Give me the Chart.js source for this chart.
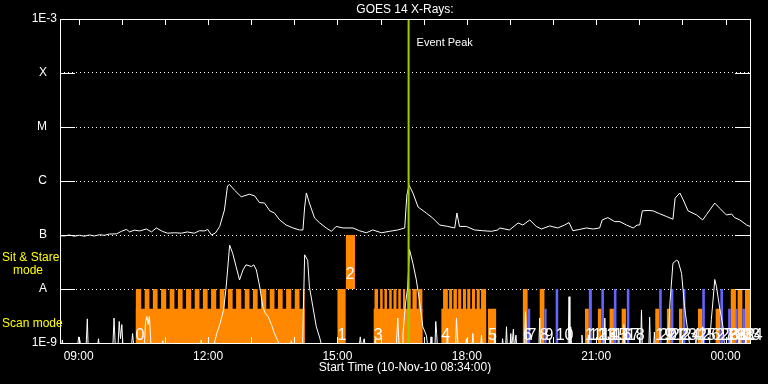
<!DOCTYPE html>
<html>
<head>
<meta charset="utf-8">
<script src="https://cdn.jsdelivr.net/npm/chart.js@4.4.0/dist/chart.umd.min.js"></script>
<style>
  html, body { margin: 0; padding: 0; background: #000; }
</style>
</head>
<body>
<canvas id="goes-chart" width="768" height="384"></canvas>
<script>
// time is in decimal hours from 10-Nov-10 08:34, values past 24 are the next day
var startHour = 8 + 34 / 60;
var endHour = startHour + 16;
var eventPeak = 16.65;

var hourTicks = [9, 10, 11, 12, 13, 14, 15, 16, 17, 18, 19, 20, 21, 22, 23, 24];
var decadeTicks = [1e-9, 1e-8, 1e-7, 1e-6, 1e-5, 1e-4, 1e-3];
var decadeNames = ['1E-9', 'A', 'B', 'C', 'M', 'X', '1E-3'];

// GOES 14 long channel (upper curve)
var longTime = [8.57, 8.67, 8.78, 8.90, 9.02, 9.13, 9.25, 9.36, 9.48, 9.60, 9.71, 9.88, 9.99, 10.11, 10.18, 10.29,
  10.41, 10.57, 10.69, 10.80, 10.94, 11.06, 11.22, 11.38, 11.52, 11.68, 11.80, 11.92, 11.99, 12.08, 12.17, 12.27,
  12.38, 12.45, 12.50, 12.61, 12.77, 12.96, 13.08, 13.19, 13.31, 13.43, 13.54, 13.66, 13.81, 13.97, 14.12, 14.20,
  14.24, 14.28, 14.35, 14.47, 14.59, 14.74, 14.86, 14.97, 15.13, 15.36, 15.51, 15.67, 15.82, 16.02, 16.21, 16.40,
  16.56, 16.61, 16.66, 16.75, 16.87, 17.06, 17.21, 17.37, 17.56, 17.72, 17.77, 17.83, 17.99, 18.18, 18.37, 18.57,
  18.72, 18.76, 18.99, 19.19, 19.30, 19.46, 19.61, 19.73, 19.92, 20.11, 20.27, 20.37, 20.46, 20.62, 20.77, 20.93,
  21.08, 21.14, 21.27, 21.43, 21.55, 21.70, 21.86, 21.95, 22.01, 22.07, 22.20, 22.32, 22.47, 22.63, 22.78, 22.83,
  22.94, 23.02, 23.13, 23.33, 23.47, 23.56, 23.75, 23.87, 24.02, 24.14, 24.21, 24.33, 24.49, 24.57];
var longFlux = [9.7e-8, 9.6e-8, 1.0e-7, 9.5e-8, 9.9e-8, 9.5e-8, 1.0e-7, 9.6e-8, 1.01e-7, 9.9e-8, 1.04e-7, 1.05e-7, 1.17e-7, 1.27e-7, 1.14e-7, 1.23e-7,
  1.19e-7, 1.29e-7, 1.14e-7, 1.35e-7, 1.17e-7, 1.08e-7, 1.10e-7, 1.08e-7, 1.14e-7, 1.08e-7, 1.20e-7, 1.19e-7, 1.27e-7, 1.00e-7, 1.09e-7, 1.44e-7,
  2.9e-7, 8.1e-7, 8.6e-7, 6.8e-7, 5.1e-7, 5.7e-7, 5.3e-7, 4.0e-7, 3.9e-7, 2.8e-7, 2.55e-7, 1.9e-7, 1.53e-7, 1.35e-7, 1.24e-7, 1.24e-7,
  3.3e-7, 6.0e-7, 3.9e-7, 2.06e-7, 1.67e-7, 1.35e-7, 1.17e-7, 1.44e-7, 1.35e-7, 1.35e-7, 1.20e-7, 1.10e-7, 1.24e-7, 1.10e-7, 1.17e-7, 1.24e-7,
  1.35e-7, 5.5e-7, 8.4e-7, 6.0e-7, 3.3e-7, 2.55e-7, 2.06e-7, 1.53e-7, 1.44e-7, 1.35e-7, 2.55e-7, 1.44e-7, 1.44e-7, 1.24e-7, 1.20e-7, 1.17e-7,
  1.24e-7, 1.35e-7, 1.24e-7, 1.67e-7, 1.53e-7, 1.90e-7, 1.44e-7, 1.29e-7, 1.47e-7, 1.35e-7, 1.53e-7, 1.70e-7, 1.20e-7, 1.27e-7, 1.35e-7, 1.29e-7,
  1.35e-7, 1.90e-7, 2.10e-7, 1.77e-7, 1.77e-7, 1.53e-7, 1.35e-7, 1.53e-7, 1.53e-7, 2.8e-7, 2.85e-7, 2.8e-7, 2.48e-7, 2.2e-7, 1.96e-7, 4.8e-7,
  6.0e-7, 4.45e-7, 2.8e-7, 2.35e-7, 1.90e-7, 2.40e-7, 3.90e-7, 3.10e-7, 2.35e-7, 2.45e-7, 2.10e-7, 1.90e-7, 1.53e-7, 1.44e-7];

// GOES 14 short channel (lower curve), 8e-10 sits below the axis
var shortTime = [8.57, 8.61, 8.62, 8.64, 8.97, 9.00, 9.03, 9.05, 9.17, 9.20, 9.22, 9.43, 9.46, 9.48,
  9.79, 9.82, 9.85, 9.91, 9.94, 9.97, 10.00, 10.03, 10.22, 10.25, 10.28,
  10.52, 10.55, 10.58, 10.61, 10.64, 10.68, 10.93, 10.95, 10.97, 11.82, 11.84, 11.86,
  12.12, 12.20, 12.28, 12.36, 12.42, 12.50, 12.57, 12.65, 12.73, 12.81, 12.88, 12.95, 13.00, 13.06, 13.12,
  13.19, 13.27, 13.33, 13.39, 13.46, 13.54, 13.61, 13.68, 13.90, 13.93, 13.96,
  14.19, 14.24, 14.31, 14.35, 14.43, 14.51, 14.59, 14.65, 15.50, 15.53, 15.56, 15.62, 15.65, 15.85, 15.88, 15.90,
  16.36, 16.40, 16.43, 16.50, 16.52, 16.58, 16.63, 16.67, 16.75, 16.83, 16.91, 16.98, 17.06, 17.10,
  17.15, 17.17, 17.19, 17.26, 17.28, 17.30, 17.32, 17.53, 17.55, 17.57, 17.74, 17.76, 17.78, 17.80,
  17.97, 17.99, 18.01, 18.12, 18.14, 18.16, 18.32, 18.34, 18.36, 18.63, 18.65, 18.67,
  18.81, 18.83, 18.85, 18.90, 18.92, 18.94, 19.00, 19.02, 19.04, 19.08, 19.10, 19.14, 19.16,
  19.34, 19.36, 19.38, 19.40, 19.67, 19.69, 19.71, 19.90, 19.92, 19.94,
  20.35, 20.37, 20.39, 20.41, 20.43, 20.65, 20.67, 20.69, 20.80, 20.82, 20.84,
  21.18, 21.20, 21.22, 21.30, 21.32, 21.34, 21.50, 21.52, 21.54, 21.62, 21.64, 21.66,
  22.03, 22.05, 22.07, 22.22, 22.24, 22.26, 22.33, 22.35, 22.37,
  22.62, 22.68, 22.71, 22.78, 22.86, 22.90, 22.98, 23.05, 23.13, 23.18,
  23.30, 23.32, 23.34, 23.45, 23.47, 23.49, 23.62, 23.67, 23.75, 23.79, 23.87, 23.90, 23.94, 23.98,
  24.10, 24.12, 24.14, 24.30, 24.32, 24.34, 24.45, 24.47, 24.49, 24.57];
var shortFlux = [8e-10, 8e-10, 1.14e-9, 8e-10, 8e-10, 1.3e-9, 1.1e-9, 8e-10, 8e-10, 2.8e-9, 8e-10, 8e-10, 1.2e-9, 8e-10,
  8e-10, 2.9e-9, 8e-10, 8e-10, 2.5e-9, 1.2e-9, 2.2e-9, 8e-10, 8e-10, 1.5e-9, 8e-10,
  8e-10, 2.4e-9, 3.1e-9, 2.2e-9, 3.1e-9, 8e-10, 8e-10, 1.1e-9, 8e-10, 8e-10, 1.14e-9, 8e-10,
  8e-10, 1.5e-9, 2.3e-9, 4.1e-9, 1.1e-8, 6.5e-8, 4.6e-8, 2.6e-8, 1.47e-8, 2.25e-8, 2.8e-8, 2.7e-8, 2.6e-8, 2.8e-8, 2.25e-8,
  1.19e-8, 4.7e-9, 3.5e-9, 3.1e-9, 2.3e-9, 1.5e-9, 1.14e-9, 8e-10, 8e-10, 1.1e-9, 8e-10,
  8e-10, 4.3e-8, 3.4e-8, 1.1e-8, 4.7e-9, 2.0e-9, 1.24e-9, 8e-10, 8e-10, 1.3e-9, 8e-10, 1.2e-9, 8e-10, 8e-10, 1.2e-9, 8e-10,
  8e-10, 2.9e-9, 8e-10, 8e-10, 1.5e-9, 5.5e-9, 1.1e-8, 5.4e-8, 3.0e-8, 1.47e-8, 5.5e-9, 2.0e-9, 1.4e-9, 8e-10,
  8e-10, 1.3e-9, 8e-10, 8e-10, 2.5e-9, 1.5e-9, 8e-10, 8e-10, 1.5e-9, 8e-10, 8e-10, 2.9e-9, 1.5e-9, 8e-10,
  8e-10, 1.2e-9, 8e-10, 8e-10, 1.5e-9, 8e-10, 8e-10, 1.4e-9, 8e-10, 8e-10, 1.5e-9, 8e-10,
  8e-10, 1.2e-9, 8e-10, 8e-10, 2.0e-9, 8e-10, 8e-10, 1.5e-9, 8e-10, 1.8e-9, 8e-10, 1.4e-9, 8e-10,
  8e-10, 3.8e-9, 1.5e-9, 8e-10, 8e-10, 2.9e-9, 8e-10, 8e-10, 1.2e-9, 8e-10,
  8e-10, 7.2e-9, 8e-10, 2.0e-9, 8e-10, 8e-10, 1.4e-9, 8e-10, 8e-10, 1.4e-9, 8e-10,
  8e-10, 2.9e-9, 8e-10, 8e-10, 1.8e-9, 8e-10, 8e-10, 1.6e-9, 8e-10, 8e-10, 2.2e-9, 8e-10,
  8e-10, 4.1e-9, 8e-10, 8e-10, 3.0e-9, 8e-10, 8e-10, 1.6e-9, 8e-10,
  8e-10, 1.5e-9, 5.5e-9, 3.0e-8, 3.4e-8, 3.3e-8, 1.95e-8, 4.7e-9, 1.5e-9, 8e-10,
  8e-10, 1.7e-9, 8e-10, 8e-10, 2.0e-9, 8e-10, 8e-10, 2.7e-9, 1.5e-8, 1.1e-8, 4.1e-9, 3.1e-9, 2.0e-9, 8e-10,
  8e-10, 1.8e-9, 8e-10, 8e-10, 1.5e-9, 8e-10, 8e-10, 1.3e-9, 8e-10, 8e-10];

// numbered observing blocks
var obsNames = ['0', '1', '2', '3', '4', '5', '6', '7', '8', '9', '10', '11', '12', '13', '14', '15', '16', '17',
  '18', '19', '20', '21', '22', '23', '24', '25', '26', '27', '28', '29', '30', '31', '32', '33', '34'];
var obsMode = ['scan', 'scan', 'stare', 'scan', 'scan', 'scan',
  'scan', 'alt', 'scan', 'alt', 'alt', 'scan', 'alt', 'scan', 'alt', 'scan', 'alt', 'scan', 'alt', 'scan', 'alt',
  'scan', 'alt', 'scan', 'alt', 'scan', 'alt', 'scan', 'alt', 'alt', 'scan', 'alt', 'scan', 'alt', 'scan'];
var obsStart = [10.32, 15.00, 15.19, 15.84, 17.41, 18.49, 19.30, 19.41, 19.69, 19.80, 20.06, 20.74, 20.83, 21.04,
  21.12, 21.31, 21.41, 21.59, 21.71, 22.37, 22.46, 22.64, 22.73, 22.92, 23.01, 23.36, 23.46, 23.77, 23.88, 24.06,
  24.12, 24.24, 24.28, 24.39, 24.45];
var obsEnd = [14.24, 15.19, 15.41, 16.97, 18.45, 18.68, 19.41, 19.47, 19.80, 19.85, 20.12, 20.83, 20.90, 21.12,
  21.18, 21.41, 21.47, 21.69, 21.77, 22.46, 22.52, 22.73, 22.79, 23.00, 23.07, 23.46, 23.52, 23.88, 23.94, 24.12,
  24.24, 24.28, 24.39, 24.45, 24.57];
var obsTop = [4.3e-9, 1e-8, 1e-7, 4.3e-9, 4.3e-9, 4.3e-9, 1e-8, 4.3e-9, 1e-8, 4.3e-9, 1e-8, 4.3e-9, 1e-8, 4.3e-9,
  1e-8, 4.3e-9, 1e-8, 4.3e-9, 1e-8, 4.3e-9, 1e-8, 4.3e-9, 1e-8, 4.3e-9, 1e-8, 4.3e-9, 1e-8, 4.3e-9, 1e-8, 4.3e-9,
  1e-8, 4.3e-9, 1e-8, 4.3e-9, 1e-8];
var obsBottom = [1e-9, 1e-9, 1e-8, 1e-9, 1e-9, 1e-9, 1e-9, 1e-9, 1e-9, 1e-9, 1e-9, 1e-9, 1e-9, 1e-9, 1e-9, 1e-9,
  1e-9, 1e-9, 1e-9, 1e-9, 1e-9, 1e-9, 1e-9, 1e-9, 1e-9, 1e-9, 1e-9, 1e-9, 1e-9, 1e-9, 1e-9, 1e-9, 1e-9, 1e-9, 1e-9];

// raster steps on top of the scan blocks
var combStart = [10.32, 10.53, 10.72, 10.91, 11.11, 11.30, 11.49, 11.69, 11.88, 12.07, 12.27, 12.46, 12.65, 12.85,
  13.04, 13.23, 13.43, 13.62, 13.81, 14.01, 14.20,
  15.86, 15.99, 16.09, 16.20, 16.30, 16.41, 16.52, 16.62, 16.74, 16.88,
  17.45, 17.59, 17.69, 17.80, 17.91, 18.01, 18.12, 18.23, 18.33];
var combEnd = [10.45, 10.64, 10.83, 11.03, 11.22, 11.41, 11.61, 11.80, 11.99, 12.19, 12.38, 12.57, 12.77, 12.96,
  13.15, 13.35, 13.54, 13.73, 13.93, 14.12, 14.24,
  15.94, 16.05, 16.15, 16.26, 16.37, 16.47, 16.57, 16.70, 16.84, 16.97,
  17.56, 17.66, 17.77, 17.87, 17.98, 18.08, 18.19, 18.30, 18.45];
var combTop = 1e-8;

var yMin = 1e-9;
var yMax = 1e-3;
var font = '"Liberation Sans", Arial, sans-serif';

function xy(xs, ys) {
  return xs.map(function (x, i) { return {x: x, y: ys[i]}; });
}

// rectangles standing on the axis, as a stepped outline
function steps(idx, starts, ends, tops) {
  var pts = [];
  idx.forEach(function (i) {
    pts.push({x: starts[i], y: tops[i]});
    pts.push({x: ends[i], y: yMin});
  });
  return pts;
}

function pick(mode) {
  var out = [];
  obsMode.forEach(function (m, i) { if (m === mode) out.push(i); });
  return out;
}

function rectSet(data, color, fill, stepped) {
  return {
    data: data,
    borderColor: 'rgba(0,0,0,0)',
    borderWidth: 0,
    backgroundColor: color,
    fill: fill,
    stepped: stepped,
    pointRadius: 0
  };
}

var stareIdx = pick('stare');
var stareData = [];
stareIdx.forEach(function (i) {
  stareData.push({x: obsStart[i], y: obsTop[i]});
  stareData.push({x: obsEnd[i], y: obsTop[i]});
});

var frame = {
  id: 'frame',
  afterDraw: function (chart) {
    var ctx = chart.ctx;
    var area = chart.chartArea;
    var xs = chart.scales.x;
    var ys = chart.scales.y;
    ctx.save();
    ctx.setLineDash([]);
    ctx.strokeStyle = '#ffffff';
    ctx.lineWidth = 1;
    ctx.strokeRect(area.left + 0.5, area.top + 0.5, area.width, area.height);

    ctx.beginPath();
    xs.ticks.forEach(function (t) {
      var px = Math.round(xs.getPixelForValue(t.value)) + 0.5;
      ctx.moveTo(px, area.top);
      ctx.lineTo(px, area.top + 6);
      ctx.moveTo(px, area.bottom);
      ctx.lineTo(px, area.bottom - 6);
    });
    ys.ticks.forEach(function (t) {
      var py = Math.round(ys.getPixelForValue(t.value)) + 0.5;
      ctx.moveTo(area.left, py);
      ctx.lineTo(area.left + 15, py);
      ctx.moveTo(area.right, py);
      ctx.lineTo(area.right - 15, py);
    });
    ctx.stroke();

    ctx.fillStyle = '#ffffff';
    ctx.textBaseline = 'middle';
    ctx.textAlign = 'center';
    ctx.font = '12px ' + font;
    ctx.fillText('GOES 14 X-Rays:', (area.left + area.right) / 2, 10);
    ctx.fillText('Start Time (10-Nov-10 08:34:00)', (area.left + area.right) / 2, 368);

    ctx.textAlign = 'left';
    ctx.font = '11px ' + font;
    ctx.fillText('Event Peak', xs.getPixelForValue(eventPeak) + 8, area.top + 24);

    ctx.fillStyle = '#ffff00';
    ctx.font = '12px ' + font;
    ctx.fillText('Sit & Stare', 2, 258);
    ctx.fillText('mode', 13, 271);
    ctx.fillText('Scan mode', 2, 324);

    ctx.fillStyle = '#ffffff';
    ctx.font = '16px ' + font;
    ctx.textBaseline = 'alphabetic';
    obsNames.forEach(function (name, i) {
      var px = xs.getPixelForValue(obsStart[i]);
      var py = obsBottom[i] > yMin ? ys.getPixelForValue(obsBottom[i]) - 10 : area.bottom - 3;
      ctx.fillText(name, px, py);
    });
    ctx.restore();
  }
};

new Chart(document.getElementById('goes-chart'), {
  type: 'line',
  data: {
    datasets: [
      {
        data: [{x: eventPeak, y: yMax}, {x: eventPeak, y: yMin}],
        borderColor: '#99cc00',
        borderWidth: 2,
        pointRadius: 0
      },
      {
        data: xy(longTime, longFlux),
        borderColor: '#ffffff',
        borderWidth: 1,
        pointRadius: 0
      },
      {
        data: xy(shortTime, shortFlux),
        borderColor: '#ffffff',
        borderWidth: 1,
        pointRadius: 0
      },
      rectSet(steps(pick('alt'), obsStart, obsEnd, obsTop), '#6464ff', 'start', true),
      rectSet(steps(combStart.map(function (v, i) { return i; }), combStart, combEnd,
        combStart.map(function () { return combTop; })), '#ff8800', 'start', true),
      rectSet(steps(pick('scan'), obsStart, obsEnd, obsTop), '#ff8800', 'start', true),
      rectSet(stareData, '#ff8800', {value: obsBottom[stareIdx[0]]}, false)
    ]
  },
  options: {
    responsive: false,
    animation: false,
    devicePixelRatio: 1,
    layout: { padding: { top: 19, right: 18, left: 0, bottom: 0 } },
    plugins: {
      legend: { display: false },
      tooltip: { enabled: false }
    },
    scales: {
      x: {
        type: 'linear',
        min: startHour,
        max: endHour,
        afterBuildTicks: function (scale) {
          scale.ticks = hourTicks.map(function (h) { return {value: h}; });
        },
        afterFit: function (scale) { scale.height = 41; },
        grid: { display: false, drawTicks: false },
        border: { display: false },
        ticks: {
          color: '#ffffff',
          font: { family: font, size: 12 },
          padding: 6,
          autoSkip: false,
          maxRotation: 0,
          callback: function (v) {
            if (v % 3 !== 0) return '';
            var h = v % 24;
            return (h < 10 ? '0' : '') + h + ':00';
          }
        }
      },
      y: {
        type: 'logarithmic',
        min: yMin,
        max: yMax,
        afterBuildTicks: function (scale) {
          scale.ticks = decadeTicks.map(function (v) { return {value: v}; });
        },
        afterFit: function (scale) { scale.width = 60; },
        grid: { color: '#ffffff', lineWidth: 1, drawTicks: false, borderDash: [1, 3] },
        border: { display: false, dash: [1, 3] },
        ticks: {
          color: '#ffffff',
          font: { family: font, size: 12 },
          padding: 3,
          callback: function (v) {
            var name = decadeNames[decadeTicks.indexOf(v)];
            return name.length === 1 ? name + '   ' : name;
          }
        }
      }
    }
  },
  plugins: [frame]
});
</script>
</body>
</html>
